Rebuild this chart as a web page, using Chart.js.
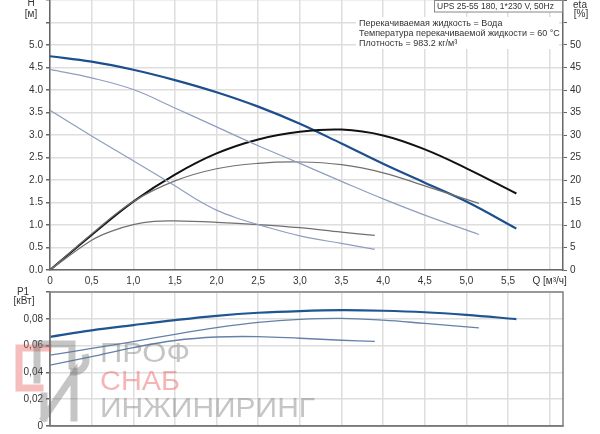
<!DOCTYPE html>
<html lang="ru">
<head>
<meta charset="UTF-8">
<title>UPS 25-55 180</title>
<script src="https://cdn.jsdelivr.net/npm/chart.js"></script>
<style>
  body { margin: 0; background: #fff; }
  #wrap { position: relative; width: 600px; height: 434px; }
  canvas { position: absolute; left: 0; }
  #top { top: 0; }
  #bottom { top: 280px; }
</style>
</head>
<body>
<div id="wrap">
  <canvas id="top" width="600" height="290" style="width:600px;height:290px"></canvas>
  <canvas id="bottom" width="600" height="154" style="width:600px;height:154px"></canvas>
</div>
<script>
// H curves [m] for the three speeds
const qH3 = [0, 0.5, 1, 1.5, 2, 2.5, 3, 3.5, 4, 4.5, 5, 5.6];
const h3 = [4.75, 4.63, 4.45, 4.22, 3.95, 3.63, 3.25, 2.81, 2.36, 1.94, 1.52, 0.92];
const qH2 = [0, 0.5, 1, 1.5, 2, 2.5, 3, 3.5, 4, 4.5, 5.15];
const h2 = [4.46, 4.27, 4.01, 3.6, 3.18, 2.76, 2.37, 1.97, 1.58, 1.22, 0.79];
const qH1 = [0, 0.5, 1, 1.5, 1.75, 2, 2.25, 2.5, 3, 3.5, 3.9];
const h1 = [3.55, 2.98, 2.43, 1.87, 1.58, 1.33, 1.15, 1.01, 0.76, 0.59, 0.46];

// eta curves [%]
const qE3 = [0, 0.5, 1, 1.5, 2, 2.5, 3, 3.5, 4, 4.5, 5, 5.6];
const e3 = [0, 7.8, 15.2, 21.2, 25.9, 29.0, 30.7, 31.2, 29.9, 26.8, 22.6, 17];
const qE2 = [0, 0.5, 1, 1.5, 2, 2.5, 3, 3.5, 4, 4.5, 5.15];
const e2 = [0, 8.0, 15.2, 19.8, 22.5, 23.7, 24, 23.4, 21.6, 18.7, 14.8];
const qE1 = [0, 0.5, 0.75, 1, 1.25, 1.5, 2, 2.5, 3, 3.5, 3.9];
const e1 = [0, 6.6, 8.7, 10.1, 10.8, 10.9, 10.6, 10.1, 9.4, 8.4, 7.7];

// P1 curves [kW]
const qP3 = [0, 0.5, 1, 1.5, 2, 2.5, 3, 3.5, 4, 4.5, 5, 5.6];
const p3 = [0.0665, 0.0714, 0.0753, 0.079, 0.0822, 0.0845, 0.0858, 0.0864, 0.086, 0.0849, 0.0829, 0.0798];
const qP2 = [0, 0.5, 1, 1.5, 2, 2.5, 3, 3.5, 4, 4.5, 5.15];
const p2 = [0.0529, 0.0579, 0.0630, 0.0684, 0.0734, 0.0773, 0.0796, 0.0803, 0.079, 0.0766, 0.0733];
const qP1 = [0, 0.5, 1, 1.5, 2, 2.5, 3, 3.5, 3.9];
const p1 = [0.0454, 0.0518, 0.0585, 0.0638, 0.0664, 0.0667, 0.0655, 0.064, 0.0631];

const infoLines = [
  'Перекачиваемая жидкость = Вода',
  'Температура перекачиваемой жидкости = 60 °C',
  'Плотность = 983.2 кг/м³'
];
const pumpTitle = 'UPS 25-55 180, 1*230 V, 50Hz';

const FONT = 'Liberation Sans, Arial, sans-serif';
const gridCol = '#dedede';
const axisCol = '#666666';
const textCol = '#333333';

function series(xs, ys, color, width, axis) {
  return {
    data: xs.map((x, i) => ({ x: x, y: ys[i] })),
    borderColor: color,
    borderWidth: width,
    pointRadius: 0,
    fill: false,
    tension: 0.4,
    yAxisID: axis
  };
}

function commaTick(v) {
  return v === 0 ? '0' : v.toFixed(1).replace('.', ',');
}

const topLabels = {
  id: 'topLabels',
  afterDraw(chart) {
    const ctx = chart.ctx;
    ctx.save();
    ctx.fillStyle = textCol;
    ctx.textBaseline = 'middle';
    ctx.font = '10px ' + FONT;
    ctx.textAlign = 'center';
    ctx.fillText('H', 31, 3);
    ctx.fillText('[м]', 31, 14);
    ctx.fillText('eta', 580, 5);
    ctx.fillText('[%]', 581, 14);

    // white box behind the info text
    ctx.fillStyle = '#fff';
    ctx.fillRect(356, 17, 203, 32);
    ctx.fillStyle = textCol;
    ctx.textAlign = 'left';
    ctx.font = '9px ' + FONT;
    infoLines.forEach((t, i) => ctx.fillText(t, 359, 23.5 + i * 10));

    // pump title box
    ctx.fillStyle = '#fff';
    ctx.fillRect(434, 0, 129, 12);
    ctx.strokeStyle = '#888';
    ctx.lineWidth = 1;
    ctx.strokeRect(434.5, 0.5, 128, 11.5);
    ctx.fillStyle = textCol;
    ctx.font = '8.5px ' + FONT;
    ctx.fillText(pumpTitle, 437, 6.5);
    ctx.restore();
  }
};

new Chart(document.getElementById('top'), {
  type: 'line',
  data: {
    datasets: [
      series(qH1, h1, '#8e9ebf', 1.2, 'y'),
      series(qH2, h2, '#8e9ebf', 1.2, 'y'),
      series(qE1, e1, '#707070', 1.2, 'yEta'),
      series(qE2, e2, '#707070', 1.2, 'yEta'),
      series(qE3, e3, '#111111', 2, 'yEta'),
      series(qH3, h3, '#1d4f8c', 2.2, 'y')
    ]
  },
  options: {
    responsive: false,
    animation: false,
    layout: { padding: 0 },
    plugins: { legend: { display: false }, tooltip: { enabled: false } },
    scales: {
      x: {
        type: 'linear', min: 0, max: 6.16,
        ticks: {
          stepSize: 0.5, includeBounds: false, autoSkip: false, maxRotation: 0,
          padding: 5, color: textCol, font: { family: FONT, size: 10 },
          callback: v => v === 6 ? 'Q [м³/ч]' : commaTick(v)
        },
        grid: { color: gridCol, lineWidth: 1.5, drawTicks: false },
        border: { color: axisCol, width: 1.5 },
        afterFit: s => { s.height = 20; s.paddingLeft = 0; s.paddingRight = 0; }
      },
      y: {
        position: 'left', min: 0, max: 6,
        ticks: {
          stepSize: 0.5, padding: 3, color: textCol, font: { family: FONT, size: 10 },
          callback: v => v > 5 ? '' : v.toFixed(1)
        },
        grid: { color: gridCol, lineWidth: 1.5, tickColor: axisCol, tickLength: 4 },
        border: { color: axisCol, width: 1.5 },
        afterFit: s => { s.width = 50; s.paddingTop = 0; s.paddingBottom = 0; }
      },
      yEta: {
        position: 'right', min: 0, max: 60,
        ticks: {
          stepSize: 5, padding: 3, color: textCol, font: { family: FONT, size: 10 },
          callback: v => v > 50 ? '' : String(v)
        },
        grid: { drawOnChartArea: false, tickColor: axisCol, tickLength: 4 },
        border: { color: axisCol, width: 1.5 },
        afterFit: s => { s.width = 37; s.paddingTop = 0; s.paddingBottom = 0; }
      }
    }
  },
  plugins: [topLabels]
});

const bottomLabels = {
  id: 'bottomLabels',
  afterDraw(chart) {
    const ctx = chart.ctx;
    const a = chart.chartArea;
    ctx.save();
    // frame
    ctx.strokeStyle = '#808080';
    ctx.lineWidth = 1.5;
    ctx.strokeRect(a.left, a.top, a.right - a.left, a.bottom - a.top);
    ctx.fillStyle = textCol;
    ctx.font = '10px ' + FONT;
    ctx.textAlign = 'center';
    ctx.textBaseline = 'middle';
    ctx.fillText('P1', 23, 12);
    ctx.fillText('[кВт]', 24, 21);

    // watermark
    ctx.lineCap = 'square';
    ctx.lineJoin = 'miter';
    ctx.strokeStyle = 'rgba(232, 90, 90, 0.4)';
    ctx.lineWidth = 7;
    ctx.beginPath();
    ctx.moveTo(48, 68); ctx.lineTo(19, 68); ctx.lineTo(19, 108); ctx.lineTo(40, 108);
    ctx.stroke();
    ctx.strokeStyle = 'rgba(110, 110, 110, 0.4)';
    ctx.beginPath();
    ctx.moveTo(37, 100); ctx.lineTo(37, 64); ctx.lineTo(72, 64); ctx.lineTo(72, 86);
    ctx.stroke();
    ctx.beginPath();
    ctx.moveTo(44, 138); ctx.lineTo(44, 116); ctx.moveTo(44, 138); ctx.lineTo(74, 94); ctx.lineTo(74, 138);
    ctx.stroke();
    ctx.beginPath();
    ctx.arc(74, 80, 12, -0.2, 1.6);
    ctx.stroke();

    ctx.textAlign = 'left';
    ctx.textBaseline = 'alphabetic';
    const marks = [
      ['ПРОФ', 82, 90, 'rgba(110, 110, 110, 0.4)'],
      ['СНАБ', 110, 80, 'rgba(232, 90, 90, 0.45)'],
      ['ИНЖИНИРИНГ', 137, 215, 'rgba(110, 110, 110, 0.4)']
    ];
    ctx.font = '27px ' + FONT;
    marks.forEach(([t, base, w, c]) => {
      const m = ctx.measureText(t).width;
      ctx.save();
      ctx.translate(100, base);
      ctx.scale(w / m, 1);
      ctx.fillStyle = c;
      ctx.fillText(t, 0, 0);
      ctx.restore();
    });
    ctx.restore();
  }
};

new Chart(document.getElementById('bottom'), {
  type: 'line',
  data: {
    datasets: [
      series(qP1, p1, '#6481aa', 1.3, 'y'),
      series(qP2, p2, '#6481aa', 1.3, 'y'),
      series(qP3, p3, '#1f5591', 2.2, 'y')
    ]
  },
  options: {
    responsive: false,
    animation: false,
    layout: { padding: { top: 12, right: 37, left: 0, bottom: 0 } },
    plugins: { legend: { display: false }, tooltip: { enabled: false } },
    scales: {
      x: {
        type: 'linear', min: 0, max: 6.16,
        ticks: { display: false, stepSize: 0.5, includeBounds: false },
        grid: { color: gridCol, lineWidth: 1.5, drawTicks: false },
        border: { color: axisCol, width: 1.5 },
        afterFit: s => { s.height = 8; s.paddingLeft = 0; s.paddingRight = 0; }
      },
      y: {
        position: 'left', min: 0, max: 0.1,
        ticks: {
          stepSize: 0.02, padding: 3, color: textCol, font: { family: FONT, size: 10 },
          callback: v => v === 0 ? '0' : (v > 0.095 ? '' : v.toFixed(2).replace('.', ','))
        },
        grid: { color: gridCol, lineWidth: 1.5, tickColor: axisCol, tickLength: 4 },
        border: { color: axisCol, width: 1.5 },
        afterFit: s => { s.width = 50; s.paddingTop = 0; s.paddingBottom = 0; }
      }
    }
  },
  plugins: [bottomLabels]
});
</script>
</body>
</html>
